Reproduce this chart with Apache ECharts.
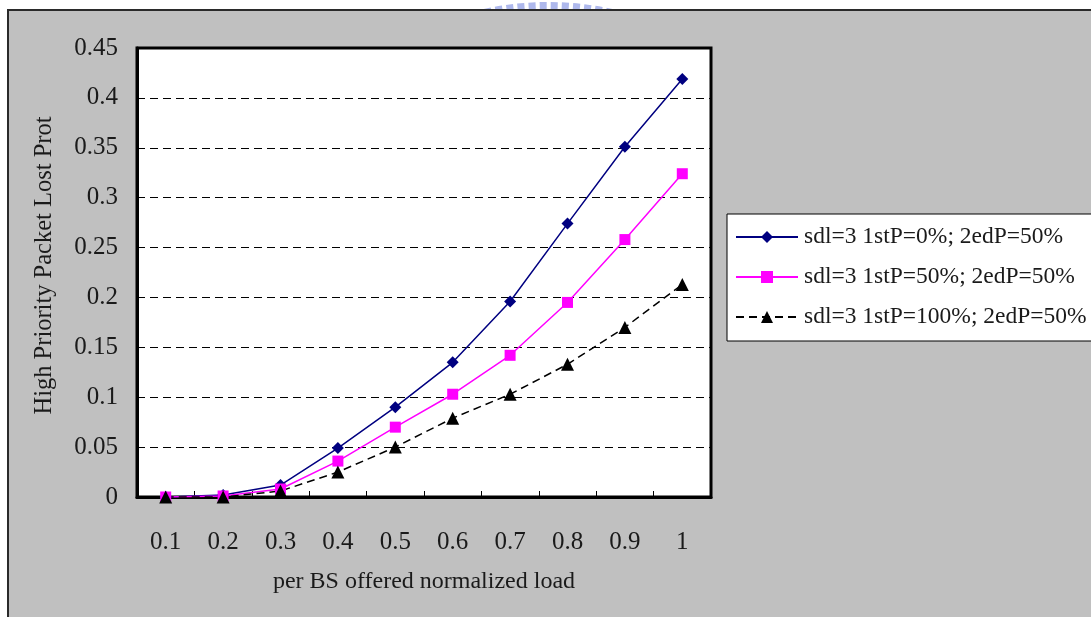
<!DOCTYPE html>
<html>
<head>
<meta charset="utf-8">
<script src="https://cdn.jsdelivr.net/npm/echarts@6/dist/echarts.min.js"></script>
<style>
  html, body { margin: 0; padding: 0; background: #fff; }
  #chart { width: 1091px; height: 617px; }
</style>
</head>
<body>
<div id="chart"></div>
<script>
// Offered load per base station (x categories)
const loads = ['0.1', '0.2', '0.3', '0.4', '0.5', '0.6', '0.7', '0.8', '0.9', '1'];

// High-priority packet loss probability for each scheduling setting
const lossP0   = [0.000, 0.002, 0.012, 0.049, 0.090, 0.135, 0.196, 0.274, 0.351, 0.419];
const lossP50  = [0.000, 0.001, 0.008, 0.036, 0.070, 0.103, 0.142, 0.195, 0.258, 0.324];
const lossP100 = [0.000, 0.000, 0.006, 0.025, 0.050, 0.079, 0.103, 0.133, 0.170, 0.213];

const seriesNames = [
  'sdl=3 1stP=0%; 2edP=50%',
  'sdl=3 1stP=50%; 2edP=50%',
  'sdl=3 1stP=100%; 2edP=50%'
];

const FONT = '"Liberation Serif", "DejaVu Serif", serif';
const TXT = '#1a1a1a';

const chart = echarts.init(document.getElementById('chart'));

chart.setOption({
  animation: false,
  backgroundColor: '#fff',
  textStyle: { fontFamily: FONT, color: TXT },
  graphic: [
    {
      // faint emblem peeking above the chart frame
      type: 'circle',
      z: -20,
      shape: { cx: 548, cy: 305, r: 296 },
      style: { fill: null, stroke: '#aeb8ec', lineWidth: 14, lineDash: [7, 4] },
      silent: true
    },
    {
      // grey chart frame
      type: 'rect',
      z: -10,
      shape: { x: 8, y: 10, width: 1100, height: 620 },
      style: { fill: '#c0c0c0', stroke: '#2a2a2a', lineWidth: 2 },
      silent: true
    }
  ],
  grid: {
    left: 137, top: 48, right: 380, bottom: 120,
    show: true,
    backgroundColor: '#fff',
    borderColor: '#000',
    borderWidth: 3
  },
  legend: {
    orient: 'vertical',
    left: 727, top: 214,
    backgroundColor: '#fff',
    borderColor: '#000',
    borderWidth: 1,
    borderRadius: 0,
    padding: [11, 40, 12, 8],
    itemWidth: 62,
    itemHeight: 15,
    itemGap: 16,
    textStyle: { fontFamily: FONT, fontSize: 23.5, color: TXT, padding: [0, 0, 0, 1] },
    data: seriesNames
  },
  xAxis: {
    type: 'category',
    data: loads,
    boundaryGap: true,
    name: 'per BS offered normalized load',
    nameLocation: 'middle',
    nameGap: 73,
    nameTextStyle: { fontFamily: FONT, fontSize: 24, color: TXT },
    axisLine: { lineStyle: { color: '#000', width: 3 } },
    axisTick: { show: true, inside: true, length: 6, lineStyle: { color: '#000', width: 1 } },
    axisLabel: { fontFamily: FONT, fontSize: 25, color: TXT, margin: 33 },
    splitLine: { show: false }
  },
  yAxis: {
    type: 'value',
    min: 0, max: 0.45, interval: 0.05,
    name: 'High Priority Packet Lost Prot',
    nameLocation: 'middle',
    nameGap: 80,
    nameTextStyle: { fontFamily: FONT, fontSize: 24.5, color: TXT, padding: [0, 0, 0, 14] },
    axisLine: { show: true, lineStyle: { color: '#000', width: 3 } },
    axisTick: { show: false },
    axisLabel: { fontFamily: FONT, fontSize: 25, color: TXT, margin: 19 },
    splitLine: { show: true, lineStyle: { color: '#000', width: 1, type: [8, 5] } }
  },
  series: [
    {
      name: seriesNames[0],
      type: 'line',
      data: lossP0,
      symbol: 'diamond',
      symbolSize: 12,
      color: '#000080',
      itemStyle: { color: '#000080' },
      lineStyle: { color: '#000080', width: 1.5 }
    },
    {
      name: seriesNames[1],
      type: 'line',
      data: lossP50,
      symbol: 'rect',
      symbolSize: 11,
      color: '#ff00ff',
      itemStyle: { color: '#ff00ff' },
      lineStyle: { color: '#ff00ff', width: 1.5 }
    },
    {
      name: seriesNames[2],
      type: 'line',
      data: lossP100,
      symbol: 'triangle',
      symbolSize: 13,
      color: '#000',
      itemStyle: { color: '#000' },
      lineStyle: { color: '#000', width: 1.5, type: [8, 5] }
    }
  ]
});
</script>
</body>
</html>
